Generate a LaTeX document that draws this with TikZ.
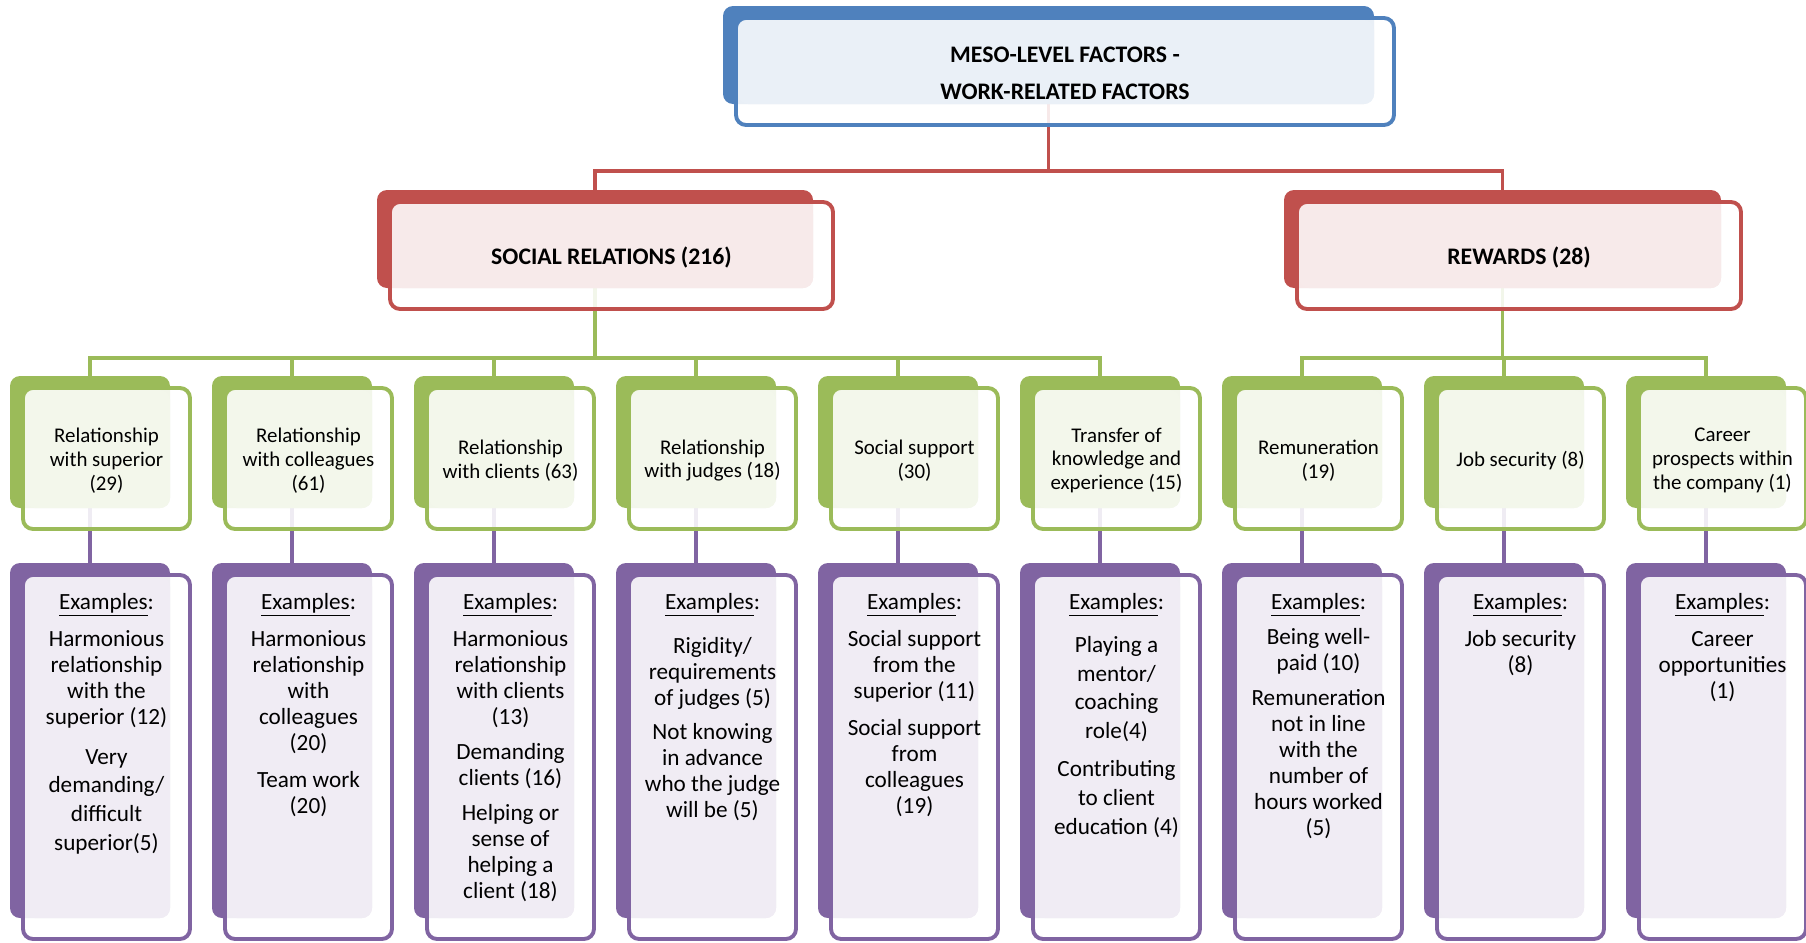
\documentclass[tikz,border=0pt]{standalone}
\usepackage{fontspec}
\setmainfont{Carlito}
\pgfdeclarelayer{links}
\pgfsetlayers{links,main}

\definecolor{mesoblue}{HTML}{4F81BD}
\definecolor{tierred}{HTML}{C0504D}
\definecolor{factorgreen}{HTML}{9BBB59}
\definecolor{examplepurple}{HTML}{8064A2}

\newcommand{\unitpx}{0.02cm}
% stacked box: name, left, top, width, height, colour
\newcommand{\stackbox}[6]{%
  \fill[#6, rounded corners=0.2cm] (#2,#3) rectangle ++(#4,#5);
  \draw[#6, line width=2.2pt, fill=white, fill opacity=0.88, rounded corners=0.2cm]
    (#2+13,#3+12) rectangle ++(#4+7,#5+9);
  \fill[#6!12, rounded corners=0.2cm] (#2+15,#3+14) rectangle ++(#4-15,#5-14);
  \coordinate (#1) at (#2+#4/2,#3+#5/2);
  \coordinate (#1-face) at (#2+#4/2+16.5,#3+#5/2+18.5);
  \coordinate (#1-head) at (#2+#4/2+16.5,#3+30);
}

\begin{document}
\begin{tikzpicture}[x=\unitpx, y=-\unitpx, line join=round,
  headtext/.style={font=\bfseries\fontsize{13.5}{20.9}\selectfont, align=center, inner sep=0pt},
  factortext/.style={font=\fontsize{11.9}{13.6}\selectfont, align=center, inner sep=0pt},
  exampletext/.style={font=\fontsize{13.2}{14.8}\selectfont, align=center, inner sep=0pt, anchor=north},
  link/.style={line width=2.2pt}]
  \useasboundingbox (0,0) rectangle (1806,943);

  % boxes
  \stackbox{meso}{723}{6}{651}{98}{mesoblue}
  \stackbox{social}{377}{190}{436}{98}{tierred}
  \stackbox{rewards}{1284}{190}{437}{98}{tierred}
  \foreach \i in {0,...,8} {
    \stackbox{g\i}{10+202*\i}{376}{160}{132}{factorgreen}
    \stackbox{p\i}{10+202*\i}{563}{160}{355}{examplepurple}
  }

  % bar levels
  \coordinate (redbar) at (0,171);
  \coordinate (greenbar) at (0,358);

  % connectors, behind the boxes
  \begin{pgfonlayer}{links}
    \draw[link, tierred] (meso) -- (meso |- redbar) -| (social);
    \draw[link, tierred] (meso |- redbar) -| (rewards);
    \foreach \i in {0,...,5}
      \draw[link, factorgreen] (social) -- (social |- greenbar) -| (g\i);
    \foreach \i in {6,7,8}
      \draw[link, factorgreen] (rewards) -- (rewards |- greenbar) -| (g\i);
    \foreach \i in {0,...,8}
      \draw[link, examplepurple] (g\i) -- (p\i);
  \end{pgfonlayer}

  % headings
  \node[headtext] (mesotext) at (meso-face) {MESO-LEVEL FACTORS -\\WORK-RELATED FACTORS};
  \node[headtext] (socialtext) at (social-face) {SOCIAL RELATIONS (216)};
  \node[headtext] (rewardstext) at (rewards-face) {REWARDS (28)};

  % factors
  \node[factortext] (superior) at (g0-face) {Relationship\\with superior\\(29)};
  \node[factortext] (colleagues) at (g1-face) {Relationship\\with colleagues\\(61)};
  \node[factortext] (clients) at (g2-face) {Relationship\\with clients (63)};
  \node[factortext] (judges) at (g3-face) {Relationship\\with judges (18)};
  \node[factortext] (support) at (g4-face) {Social support\\(30)};
  \node[factortext] (transfer) at (g5-face) {Transfer of\\knowledge and\\experience (15)};
  \node[factortext] (remuneration) at (g6-face) {Remuneration\\(19)};
  \node[factortext] (security) at (g7-face) {Job security (8)};
  \node[factortext] (career) at (g8-face) {Career\\prospects within\\the company (1)};

  % examples
  \node[exampletext] (superiorex) at (p0-head) {\underline{Examples}:\\[6.5pt]
    Harmonious\\relationship\\with the\\superior (12)\\[7.5pt]
    Very\\[1.6pt]demanding/\\[1.6pt]difficult\\[1.6pt]superior(5)};
  \node[exampletext] (colleaguesex) at (p1-head) {\underline{Examples}:\\[6.5pt]
    Harmonious\\relationship\\with\\colleagues\\(20)\\[6pt]
    Team work\\(20)};
  \node[exampletext] (clientsex) at (p2-head) {\underline{Examples}:\\[6.5pt]
    Harmonious\\relationship\\with clients\\(13)\\[5pt]
    Demanding\\clients (16)\\[5pt]
    Helping or\\sense of\\helping a\\client (18)};
  \node[exampletext] (judgesex) at (p3-head) {\underline{Examples}:\\[10pt]
    Rigidity/\\requirements\\of judges (5)\\[5pt]
    Not knowing\\in advance\\who the judge\\will be (5)};
  \node[exampletext] (supportex) at (p4-head) {\underline{Examples}:\\[6.5pt]
    Social support\\from the\\superior (11)\\[6pt]
    Social support\\from\\colleagues\\(19)};
  \node[exampletext, font=\fontsize{13.2}{16.4}\selectfont] (transferex) at (p5-head) {\underline{Examples}:\\[8pt]
    Playing a\\mentor/\\coaching\\role(4)\\[5pt]
    Contributing\\to client\\education (4)};
  \node[exampletext] (remunerationex) at (p6-head) {\underline{Examples}:\\[5pt]
    Being well-\\paid (10)\\[5pt]
    Remuneration\\not in line\\with the\\number of\\hours worked\\(5)};
  \node[exampletext] (securityex) at (p7-head) {\underline{Examples}:\\[6.5pt]
    Job security\\(8)};
  \node[exampletext] (careerex) at (p8-head) {\underline{Examples}:\\[6.5pt]
    Career\\opportunities\\(1)};
\end{tikzpicture}
\end{document}
